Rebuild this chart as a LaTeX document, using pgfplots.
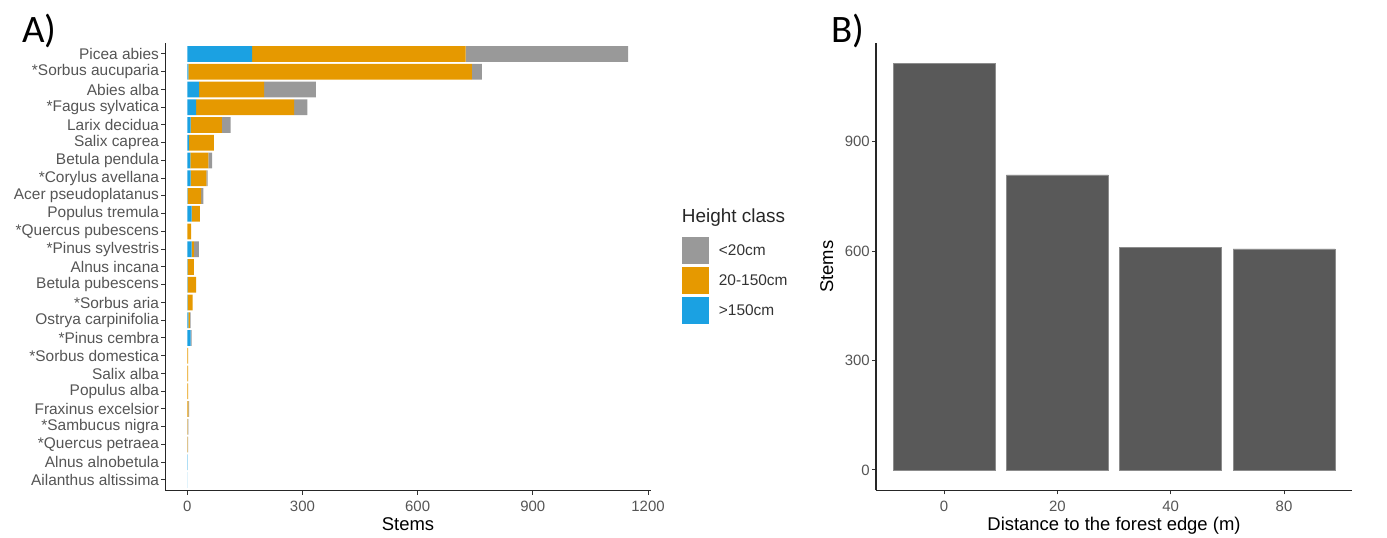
\documentclass[border=0pt]{standalone}
\usepackage{pgfplots}
\pgfplotsset{compat=1.18}
\usepackage{fontspec}
\setmainfont{Liberation Sans}
\newfontfamily\carlito{Carlito}
\definecolor{cgray}{HTML}{999999}
\definecolor{corange}{HTML}{E69900}
\definecolor{cblue}{HTML}{1BA1E2}
\definecolor{cbar}{HTML}{595959}
\definecolor{ctick}{HTML}{555555}
\definecolor{caxis}{HTML}{333333}
\pgfplotsset{gg/.style={scale only axis, axis lines=left,
  axis line style={-, line width=1.1bp, color=black!85},
  tick align=outside, major tick length=4bp,
  tick style={line width=1bp, color=caxis},
  ticklabel style={color=ctick, font=\fontsize{15}{17}\selectfont, inner sep=2bp},
  label style={font=\fontsize{18.5}{21}\selectfont, color=black},
  /pgf/number format/1000 sep={},
  /pgf/number format/assume math mode=true}}
\begin{document}
\begin{tikzpicture}
\useasboundingbox (0,0) rectangle (1387bp,538bp);
\begin{axis}[gg, at={(165.2bp,47.35bp)}, anchor=south west,
  width=485.7bp, height=447.3bp,
  xbar stacked, bar width=0.9,
  xmin=-57.5, xmax=1207.5, ymin=-0.6, ymax=24.6,
  xtick={0,300,600,900,1200},
  ytick={0,...,24},
  yticklabels={Ailanthus altissima, Alnus alnobetula, *Quercus petraea, *Sambucus nigra, Fraxinus excelsior, Populus alba, Salix alba, *Sorbus domestica, *Pinus cembra, Ostrya carpinifolia, *Sorbus aria, Betula pubescens, Alnus incana, *Pinus sylvestris, *Quercus pubescens, Populus tremula, Acer pseudoplatanus, *Corylus avellana, Betula pendula, Salix caprea, Larix decidua, *Fagus sylvatica, Abies alba, *Sorbus aucuparia, Picea abies},
  yticklabel style={font=\fontsize{15.5}{17}\selectfont},
  xticklabel style={yshift=-4bp},
  xlabel={Stems},
  xlabel style={yshift=-1bp},
  reverse legend,
  legend image code/.code={\fill[#1] (0bp,-13.5bp) rectangle (27bp,13.5bp);},
  legend style={draw=none, fill=none, inner sep=0pt, at={(1.0634,0.5677)}, anchor=north west,
    row sep=3bp, font=\fontsize{15.5}{17}\selectfont, text=black!80,
    /tikz/every odd column/.style={column sep=10bp},
    nodes={inner sep=0pt, anchor=west}},
]
\addplot[fill=cblue, draw=none] coordinates {
(0.5,0) (1,1) (0,2) (0,3) (0,4) (0,5) (0,6) (0,7) (9,8) (3,9) (1,10) (1,11) (1,12) (11,13) (0,14) (11,15) (1,16) (9,17) (8,18) (5,19) (9,20) (23,21) (31,22) (3,23) (169,24)};
\addplot[fill=corange, draw=none] coordinates {
(0,0) (0,1) (1,2) (1,3) (3,4) (2,5) (2,6) (2,7) (0,8) (4,9) (13,10) (22,11) (16,12) (6,13) (10,14) (22,15) (35,16) (41,17) (47,18) (64,19) (81,20) (255,21) (169,22) (738,23) (556,24)};
\addplot[fill=cgray, draw=none] coordinates {
(0,0) (0,1) (1,2) (2,3) (2,4) (0,5) (0,6) (0,7) (2,8) (2,9) (0,10) (0,11) (0,12) (13,13) (0,14) (0,15) (6,16) (3,17) (10,18) (0,19) (23,20) (35,21) (135,22) (26,23) (423,24)};
\addlegendentry{>150cm}
\addlegendentry{20-150cm}
\addlegendentry{<20cm}
\end{axis}
\node[anchor=base west, inner sep=0pt, font=\fontsize{19}{21}\selectfont, text=black!85] at (681.7bp,315.3bp) {Height class};
\begin{axis}[gg, at={(876bp,47.7bp)}, anchor=south west,
  width=476bp, height=447.4bp,
  ybar, bar width=0.9,
  xmin=-0.6, xmax=3.6, ymin=-55.75, ymax=1170.75,
  xtick={0,1,2,3}, xticklabels={0,20,40,80},
  ytick={0,300,600,900},
  xticklabel style={yshift=-5bp},
  ylabel style={yshift=6bp},
  xlabel={Distance to the forest edge (m)}, ylabel={Stems},
]
\addplot[fill=cbar, draw=black!45, line width=0.4bp] coordinates {(0,1115) (1,809) (2,611) (3,606)};
\end{axis}
\node[anchor=base west, inner sep=0pt, font=\carlito\fontsize{39}{40}\selectfont] at (22bp,495bp) {A)};
\node[anchor=base west, inner sep=0pt, font=\carlito\fontsize{39}{40}\selectfont] at (831bp,495bp) {B)};
\end{tikzpicture}
\end{document}
